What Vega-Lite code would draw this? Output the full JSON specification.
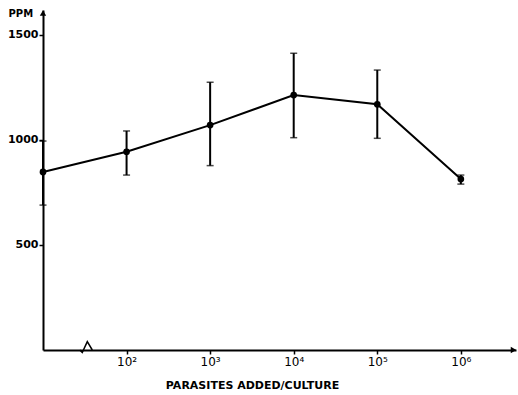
{
  "$schema": "https://vega.github.io/schema/vega-lite/v6.json",
  "width": 473,
  "height": 340,
  "autosize": "none",
  "padding": {"left": 43, "top": 10, "right": 2, "bottom": 45},
  "background": "white",
  "config": {"view": {"stroke": null}, "font": "DejaVu Sans"},
  "datasets": {
    "pts": [
      {"exp": 1, "ppm": 848, "lo": 690, "hi": 995},
      {"exp": 2, "ppm": 944, "lo": 833, "hi": 1043},
      {"exp": 3, "ppm": 1071, "lo": 878, "hi": 1275},
      {"exp": 4, "ppm": 1214, "lo": 1011, "hi": 1413},
      {"exp": 5, "ppm": 1170, "lo": 1008, "hi": 1333},
      {"exp": 6, "ppm": 814, "lo": 790, "hi": 833}
    ],
    "brk": [
      {"exp": 1.44, "ppm": 0},
      {"exp": 1.47, "ppm": -12},
      {"exp": 1.53, "ppm": 40},
      {"exp": 1.59, "ppm": 0}
    ],
    "ytip": [{"exp": 1, "ppm": 1605}],
    "xtip": [{"exp": 6.63, "ppm": 0}]
  },
  "layer": [
    {
      "data": {"name": "pts"},
      "mark": {"type": "rule", "color": "black", "strokeWidth": 2},
      "encoding": {
        "x": {"field": "exp", "type": "quantitative",
          "scale": {"domain": [1, 6.66], "nice": false, "zero": false},
          "axis": {
            "values": [2, 3, 4, 5, 6],
            "labelExpr": "datum.value == 2 ? '10²' : datum.value == 3 ? '10³' : datum.value == 4 ? '10⁴' : datum.value == 5 ? '10⁵' : '10⁶'",
            "grid": false, "domainColor": "black", "domainWidth": 2,
            "tickColor": "black", "tickSize": 4, "tickWidth": 1.5,
            "labelFont": "DejaVu Sans", "labelFontSize": 12, "labelColor": "black", "labelPadding": 2,
            "title": "PARASITES ADDED/CULTURE", "titleFont": "DejaVu Sans", "titleFontSize": 11,
            "titleFontWeight": "bold", "titleColor": "black",
            "titleX": 209, "titleY": 35, "titleBaseline": "middle", "titleAnchor": null, "titleAlign": "center"
          }
        },
        "y": {"field": "lo", "type": "quantitative",
          "scale": {"domain": [0, 1619], "nice": false},
          "axis": {
            "values": [500, 1000, 1500], "format": "d",
            "grid": false, "domainColor": "black", "domainWidth": 2,
            "tickColor": "black", "tickSize": 4, "tickWidth": 1.5,
            "labelFont": "DejaVu Sans", "labelFontSize": 11, "labelFontWeight": "bold", "labelColor": "black", "labelPadding": 1,
            "title": "PPM", "titleAngle": 0, "titleAlign": "left", "titleBaseline": "middle",
            "titleX": -35, "titleY": 3, "titleFont": "DejaVu Sans", "titleFontSize": 10, "titleFontWeight": "bold", "titleColor": "black"
          }
        },
        "y2": {"field": "hi"}
      }
    },
    {
      "data": {"name": "pts"},
      "mark": {"type": "tick", "color": "black", "size": 7, "thickness": 1.5, "orient": "horizontal"},
      "encoding": {
        "x": {"field": "exp", "type": "quantitative"},
        "y": {"field": "lo", "type": "quantitative"}
      }
    },
    {
      "data": {"name": "pts"},
      "mark": {"type": "tick", "color": "black", "size": 7, "thickness": 1.5, "orient": "horizontal"},
      "encoding": {
        "x": {"field": "exp", "type": "quantitative"},
        "y": {"field": "hi", "type": "quantitative"}
      }
    },
    {
      "data": {"name": "pts"},
      "mark": {"type": "line", "color": "black", "strokeWidth": 2},
      "encoding": {
        "x": {"field": "exp", "type": "quantitative"},
        "y": {"field": "ppm", "type": "quantitative"}
      }
    },
    {
      "data": {"name": "pts"},
      "mark": {"type": "point", "filled": true, "color": "black", "size": 45, "opacity": 1},
      "encoding": {
        "x": {"field": "exp", "type": "quantitative"},
        "y": {"field": "ppm", "type": "quantitative"}
      }
    },
    {
      "mark": {"type": "rule", "color": "white", "strokeWidth": 4, "clip": false},
      "encoding": {
        "x": {"datum": 1.45, "type": "quantitative"},
        "x2": {"datum": 1.62},
        "y": {"datum": 0, "type": "quantitative"}
      }
    },
    {
      "data": {"name": "brk"},
      "mark": {"type": "line", "color": "black", "strokeWidth": 1.5, "clip": false},
      "encoding": {
        "x": {"field": "exp", "type": "quantitative"},
        "y": {"field": "ppm", "type": "quantitative"}
      }
    },
    {
      "data": {"name": "ytip"},
      "mark": {"type": "point", "shape": "triangle-up", "filled": true, "color": "black", "size": 40, "opacity": 1, "clip": false},
      "encoding": {
        "x": {"field": "exp", "type": "quantitative"},
        "y": {"field": "ppm", "type": "quantitative"}
      }
    },
    {
      "data": {"name": "xtip"},
      "mark": {"type": "point", "shape": "triangle-right", "filled": true, "color": "black", "size": 40, "opacity": 1, "clip": false},
      "encoding": {
        "x": {"field": "exp", "type": "quantitative"},
        "y": {"field": "ppm", "type": "quantitative"}
      }
    }
  ]
}
